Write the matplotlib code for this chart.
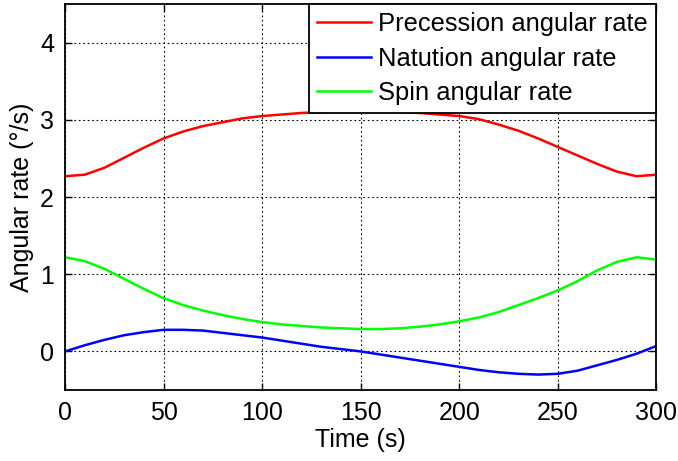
import numpy as np
import matplotlib
matplotlib.use("Agg")
import matplotlib.pyplot as plt

plt.rcParams['font.family'] = ['Liberation Sans', 'DejaVu Sans']

# sampled every 10 s
time_s = list(range(0, 301, 10))
precession = [2.27, 2.29, 2.38, 2.51, 2.64, 2.76, 2.85, 2.92, 2.97, 3.02, 3.05,
              3.07, 3.09, 3.10, 3.11, 3.11, 3.11, 3.10, 3.09, 3.07, 3.05,
              3.01, 2.94, 2.86, 2.76, 2.65, 2.54, 2.43, 2.33, 2.27, 2.29]
nutation = [0.00, 0.08, 0.15, 0.21, 0.25, 0.28, 0.28, 0.27, 0.24, 0.21, 0.18,
            0.14, 0.10, 0.06, 0.03, 0.00, -0.04, -0.08, -0.12, -0.16, -0.20,
            -0.24, -0.27, -0.29, -0.30, -0.29, -0.25, -0.18, -0.11, -0.03, 0.07]
spin = [1.22, 1.17, 1.07, 0.94, 0.81, 0.69, 0.60, 0.53, 0.47, 0.42, 0.38,
        0.35, 0.33, 0.31, 0.30, 0.29, 0.29, 0.30, 0.32, 0.35, 0.39,
        0.44, 0.51, 0.60, 0.69, 0.79, 0.91, 1.05, 1.16, 1.22, 1.19]

labels = ['Precession angular rate', 'Natution angular rate', 'Spin angular rate']
colors = ['#ff0000', '#0000ff', '#00ff00']
x_ticks = [0, 50, 100, 150, 200, 250, 300]
y_ticks = [0, 1, 2, 3, 4]

fig = plt.figure(figsize=(6.78, 4.61), dpi=100)
ax = fig.add_axes([0.096, 0.154, 0.872, 0.837])

for y, lab, c in zip([precession, nutation, spin], labels, colors):
    ax.plot(time_s, y, color=c, lw=1.8, label=lab)

ax.set_xlim(0, 300)
ax.set_ylim(-0.5, 4.5)
ax.set_xticks(x_ticks)
ax.set_yticks(y_ticks)
ax.tick_params(direction='in', top=True, right=True, labelsize=18, length=5, width=1, pad=8)
ax.grid(True, color='black', linestyle=(0, (1.5, 2.5)), linewidth=0.8)
for s in ax.spines.values():
    s.set_linewidth(1.3)

ax.set_xlabel('Time (s)', fontsize=18, labelpad=2)
ax.set_ylabel('Angular rate (°/s)', fontsize=18, labelpad=4)

leg = ax.legend(loc='upper right', fontsize=18.4, fancybox=False, framealpha=1,
                edgecolor='black', borderaxespad=0, handlelength=2.1,
                handletextpad=0.3, labelspacing=0.4, borderpad=0.32)
leg.get_frame().set_linewidth(1.3)

fig.savefig('out.png', dpi=100)
